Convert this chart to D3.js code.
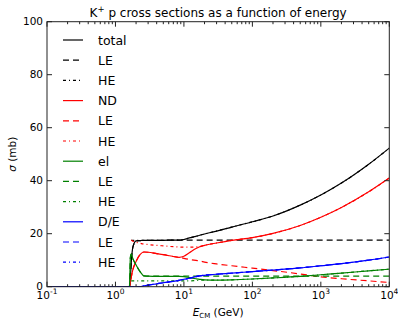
<!DOCTYPE html>
<html>
<head>
<meta charset="utf-8">
<script src="https://cdn.jsdelivr.net/npm/d3@7/dist/d3.min.js"></script>
<style>
  body { margin: 0; background: #fff; }
  svg { display: block; font-family: "DejaVu Sans", sans-serif; }
</style>
</head>
<body>
<svg id="chart" width="398" height="321"></svg>
<script>
// energy grid (GeV) shared by all curves
const energies = [0.1, 1.6, 1.65, 1.7, 1.8, 2, 2.3, 2.6, 3, 4, 5, 7, 8.5, 10, 12, 15, 17, 20, 30, 50, 100, 200, 500, 1000, 2000, 5000, 10000];

// cross sections in mb, null = not drawn
const totalSigma  = [0, 0, 3, 9, 15, 17.3, 17.4, 17.5, 17.5, 17.5, 17.5, 17.6, 17.6, 17.8, 18.4, 19.0, 19.4, 19.9, 21.0, 22.5, 24.5, 26.7, 30.8, 34.6, 39.1, 46.2, 52.3];
const totalLE     = [0, 0, 3, 9, 15, 17.3, 17.4, 17.5, 17.5, 17.5, 17.5, 17.6, 17.6, 17.6, 17.6, 17.6, 17.6, 17.6, 17.6, 17.6, 17.6, 17.6, 17.6, 17.6, 17.6, 17.6, 17.6];
const totalHE     = [null, null, null, 17.5, 17.5, 17.5, 17.5, 17.5, 17.5, 17.5, 17.5, 17.6, 17.6, 17.8, 18.4, 19.0, 19.4, 19.9, 21.0, 22.5, 24.5, 26.7, 30.8, 34.6, 39.1, 46.2, 52.3];
const ndSigma     = [0, 0, 1.5, 3.5, 6.5, 9.5, 12.2, 13.1, 13.0, 12.5, 12.1, 11.4, 11.1, 11.5, 12.8, 14.4, 15.1, 15.6, 16.5, 17.5, 18.5, 20.1, 23.1, 26.2, 29.9, 35.8, 41.0];
const ndLE        = [0, 0, 1.5, 3.5, 6.5, 9.5, 12.2, 13.1, 13.0, 12.5, 12.1, 11.4, 11.1, 10.7, 10.3, 9.9, 9.7, 9.3, 8.6, 7.9, 7.0, 6.1, 4.8, 3.7, 3.0, 2.2, 1.6];
const ndHE        = [null, null, null, 17.6, 17.2, 16.8, 16.4, 16.1, 15.9, 15.6, 15.4, 15.1, 15.0, 14.9, 14.9, 15.0, 15.1, 15.6, 16.5, 17.5, 18.5, 20.1, 23.1, 26.2, 29.9, 35.8, 41.0];
const elSigma     = [0, 0, 11, 12.3, 10.5, 8.2, 5.6, 4.1, 4.0, 3.9, 3.9, 3.9, 3.9, 3.8, 3.4, 3.0, 2.8, 2.6, 2.5, 2.6, 2.9, 3.3, 3.9, 4.5, 5.1, 6.0, 6.6];
const elLE        = [0, 0, 11, 12.3, 10.5, 8.2, 5.6, 4.1, 4.0, 4.0, 4.0, 4.0, 4.0, 4.0, 4.0, 4.0, 4.0, 4.0, 4.0, 4.0, 4.0, 4.0, 4.0, 4.0, 4.0, 4.0, 4.0];
const elHE        = [null, null, null, 2.2, 2.2, 2.2, 2.2, 2.2, 2.2, 2.2, 2.2, 2.2, 2.2, 2.2, 2.2, 2.3, 2.4, 2.5, 2.5, 2.6, 2.9, 3.3, 3.9, 4.5, 5.1, 6.0, 6.6];
const deSigma     = [0, 0, 0, 0, 0, 0, 0, 0.3, 0.6, 1.1, 1.5, 2.0, 2.4, 2.8, 3.2, 3.8, 4.1, 4.3, 4.7, 5.1, 5.7, 6.3, 7.1, 7.9, 8.7, 10.0, 11.2];
const deLE        = deSigma.slice();
const deHE        = deSigma.slice();

const seriesLabels = ["total", "LE", "HE", "ND", "LE", "HE", "el", "LE", "HE", "D/E", "LE", "HE"];
const seriesValues = [totalSigma, totalLE, totalHE, ndSigma, ndLE, ndHE, elSigma, elLE, elHE, deSigma, deLE, deHE];

const yTicks = [0, 20, 40, 60, 80, 100];
const xTickExps = [-1, 0, 1, 2, 3, 4];

const colors = ["#000000", "#ff0000", "#008000", "#0000ff"];
const dashes = [null, "6,4", "3,3,1,3"];

const svg = d3.select("#chart");
const plotLeft = 47, plotRight = 389.3, plotTop = 21.7, plotBottom = 286.7;

const x = d3.scaleLog().domain([0.1, 10000]).range([plotLeft, plotRight]);
const y = d3.scaleLinear().domain([0, 100]).range([plotBottom, plotTop]);

svg.append("defs").append("clipPath").attr("id", "plotclip")
  .append("rect").attr("x", plotLeft).attr("y", plotTop)
  .attr("width", plotRight - plotLeft).attr("height", plotBottom - plotTop);

const line = d3.line()
  .defined(d => d[1] !== null)
  .curve(d3.curveMonotoneX)
  .x(d => x(d[0]))
  .y(d => y(d[1]));

const plot = svg.append("g").attr("clip-path", "url(#plotclip)");
seriesValues.forEach((vals, i) => {
  plot.append("path")
    .datum(energies.map((e, j) => [e, vals[j]]))
    .attr("fill", "none")
    .attr("stroke", colors[Math.floor(i / 3)])
    .attr("stroke-width", 1.2)
    .attr("stroke-dasharray", dashes[i % 3])
    .attr("d", line);
});

// frame
svg.append("rect")
  .attr("x", plotLeft).attr("y", plotTop)
  .attr("width", plotRight - plotLeft).attr("height", plotBottom - plotTop)
  .attr("fill", "none").attr("stroke", "#222").attr("stroke-width", 1);

// ticks, pointing inward on all sides
const ticks = svg.append("g").attr("stroke", "#222").attr("stroke-width", 1);
yTicks.forEach(v => {
  ticks.append("line").attr("x1", plotLeft).attr("x2", plotLeft + 5).attr("y1", y(v)).attr("y2", y(v));
  ticks.append("line").attr("x1", plotRight).attr("x2", plotRight - 5).attr("y1", y(v)).attr("y2", y(v));
});
const minor = [];
xTickExps.slice(0, -1).forEach(p => { for (let k = 2; k < 10; k++) minor.push(k * Math.pow(10, p)); });
xTickExps.forEach(p => {
  const xv = x(Math.pow(10, p));
  ticks.append("line").attr("x1", xv).attr("x2", xv).attr("y1", plotBottom).attr("y2", plotBottom - 5);
  ticks.append("line").attr("x1", xv).attr("x2", xv).attr("y1", plotTop).attr("y2", plotTop + 5);
});
minor.forEach(v => {
  const xv = x(v);
  ticks.append("line").attr("x1", xv).attr("x2", xv).attr("y1", plotBottom).attr("y2", plotBottom - 2.5);
  ticks.append("line").attr("x1", xv).attr("x2", xv).attr("y1", plotTop).attr("y2", plotTop + 2.5);
});

// tick labels
yTicks.forEach(v => {
  svg.append("text").attr("x", plotLeft - 4).attr("y", y(v) + 3)
    .attr("text-anchor", "end").attr("font-size", 10.5).text(v);
});
xTickExps.forEach(p => {
  const t = svg.append("text").attr("x", x(Math.pow(10, p))).attr("y", 298.5)
    .attr("text-anchor", "middle").attr("font-size", 10.5);
  t.append("tspan").text("10");
  t.append("tspan").attr("dy", -5).attr("font-size", 7.5).text(p);
});

// axis labels
const xl = svg.append("text").attr("x", (plotLeft + plotRight) / 2).attr("y", 316)
  .attr("text-anchor", "middle").attr("font-size", 10.5);
xl.append("tspan").attr("font-style", "italic").text("E");
xl.append("tspan").attr("dy", 2).attr("font-size", 7).text("CM");
xl.append("tspan").attr("dy", -2).text(" (GeV)");

svg.append("text").attr("transform", `translate(16,${(plotTop + plotBottom) / 2}) rotate(-90)`)
  .attr("text-anchor", "middle").attr("font-size", 10.5)
  .html('<tspan font-style="italic">σ</tspan> (mb)');

// title
const title = svg.append("text").attr("x", (plotLeft + plotRight) / 2).attr("y", 17)
  .attr("text-anchor", "middle").attr("font-size", 12);
title.append("tspan").text("K");
title.append("tspan").attr("dy", -5).attr("font-size", 8.5).text("+");
title.append("tspan").attr("dy", 5).text(" p cross sections as a function of energy");

// legend
const legend = svg.append("g");
seriesLabels.forEach((lab, i) => {
  const ly = 40 + i * 20.2;
  legend.append("line").attr("x1", 63).attr("x2", 83).attr("y1", ly).attr("y2", ly)
    .attr("stroke", colors[Math.floor(i / 3)]).attr("stroke-width", 1.2)
    .attr("stroke-dasharray", dashes[i % 3]);
  legend.append("text").attr("x", 98).attr("y", ly + 4.5)
    .attr("font-size", 12.5).text(lab);
});
</script>
</body>
</html>
